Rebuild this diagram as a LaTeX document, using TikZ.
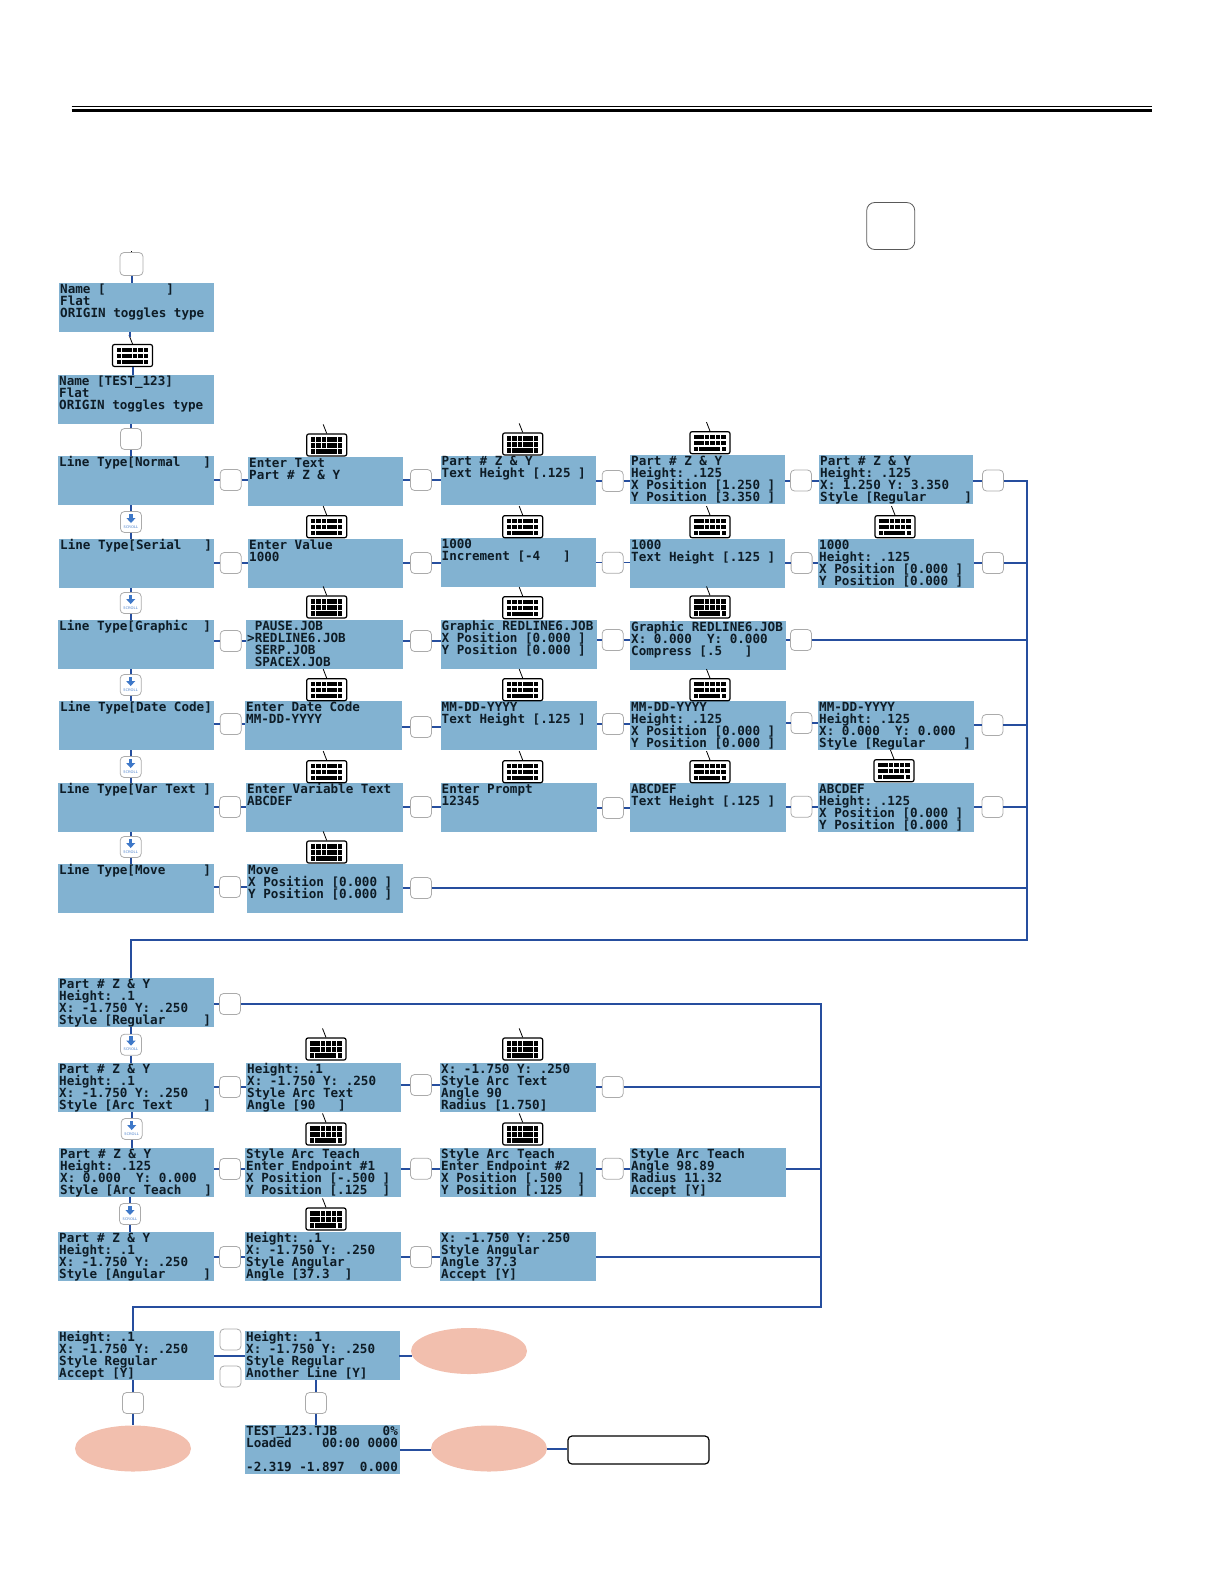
\documentclass[tikz,border=0pt]{standalone}
\usepackage{xcolor}
\usepackage{fontspec}
\setmonofont{DejaVu Sans Mono}
\usetikzlibrary{shapes.geometric}
\definecolor{lcdblue}{HTML}{82B2D1}
\definecolor{linkblue}{HTML}{264E9E}
\definecolor{scrollblue}{HTML}{3E78C8}
\definecolor{ovalpink}{HTML}{F2BFAE}
\definecolor{keygrey}{HTML}{ABABAB}
\definecolor{lcdink}{HTML}{0E1C26}
\newcommand{\lcdspacing}{\spaceskip=7.585pt \xspaceskip=7.585pt \lineskiplimit=-20pt \relax}
\tikzset{
  lcd/.style={fill=lcdblue, anchor=north west, inner xsep=1pt, inner ysep=0pt, text=lcdink,
    text width=#1-2pt, text height=10pt, text depth=39pt, align=left,
    font=\ttfamily\bfseries\fontsize{12.6}{12}\selectfont, execute at begin node=\lcdspacing},
  lcd/.default=156pt,
  blankkey/.style={draw=keygrey, line width=.8pt, fill=white, rounded corners=4pt, minimum size=21pt, inner sep=0pt},
  scrollkey/.style={blankkey, text=scrollblue, font=\sffamily\fontsize{3.8}{4}\selectfont},
  kbdkey/.style={draw=black, line width=1.2pt, fill=white, rounded corners=2pt, minimum width=40pt, minimum height=22pt, inner sep=0pt,
    path picture={\begin{scope}[shift={(path picture bounding box.center)}, sharp corners]
      \foreach \kx in {-16,-10.6,-5.2,.2,5.6,11} {
        \fill[black] (\kx,-8) rectangle ++(4.6,4.6);
        \fill[black] (\kx,-2) rectangle ++(4.6,4.6);
      }
      \fill[black] (-16,4) rectangle ++(4,4.6);
      \fill[black] (-10.6,4) rectangle ++(21,4.6);
      \fill[black] (11.6,4) rectangle ++(4,4.6);
    \end{scope}}},
  kbdtail/.style={draw=black, line width=.8pt},
  link/.style={draw=linkblue, line width=2pt},
  thinlink/.style={draw=linkblue, line width=1.2pt},
  oval/.style={ellipse, fill=ovalpink, minimum width=116pt, minimum height=46pt, inner sep=0pt}
}
\begin{document}
\begin{tikzpicture}[x=1pt,y=-1pt]
  \useasboundingbox (0,0) rectangle (1224,1584);
  % top rules
  \draw[line width=1.3pt] (71.5,106.5) -- (1152,106.5);
  \draw[line width=3pt] (71.5,110.5) -- (1152,110.5);
  \node[blankkey, draw=black!65, minimum width=48pt, minimum height=47pt, rounded corners=8pt] (startkey) at (890.7,226) {};

  % first column
  \node[lcd=155pt] (b01) at (59,283) {Name [~~~~~~~~]\\Flat\\ORIGIN toggles type};
  \node[lcd] (b02) at (58,375) {Name [TEST\_123]\\Flat\\ORIGIN toggles type};
  \node[lcd] (b11) at (58,456) {Line Type[Normal~~~]};
  \node[lcd=155pt] (b21) at (59,539) {Line Type[Serial~~~]};
  \node[lcd] (b31) at (58,620) {Line Type[Graphic~~]};
  \node[lcd=155pt] (b41) at (59,701) {Line Type[Date Code]};
  \node[lcd] (b51) at (58,783) {Line Type[Var Text ]};
  \node[lcd] (b61) at (58,864) {Line Type[Move~~~~~]};

  % normal row
  \node[lcd=155pt] (b12) at (248,457) {Enter Text\\Part \# Z \& Y};
  \node[lcd=155pt] (b13) at (440.5,455.5) {Part \# Z \& Y\\Text Height [.125 ]};
  \node[lcd=155pt] (b14) at (630,455) {Part \# Z \& Y\\Height: .125\\X Position [1.250 ]\\Y Position [3.350 ]};
  \node[lcd=154pt] (b15) at (819,455) {Part \# Z \& Y\\Height: .125\\X: 1.250 Y: 3.350\\Style [Regular~~~~~]};

  % serial row
  \node[lcd=155pt] (b22) at (248,539) {Enter Value\\1000};
  \node[lcd=155pt] (b23) at (440.5,538) {1000\\Increment [-4~~~]};
  \node[lcd=155pt] (b24) at (630,539) {1000\\Text Height [.125 ]};
  \node[lcd] (b25) at (818,539) {1000\\Height: .125\\X Position [0.000 ]\\Y Position [0.000 ]};

  % graphic row
  \node[lcd=157pt] (b32) at (246,620) {~PAUSE.JOB\\>REDLINE6.JOB\\~SERP.JOB\\~SPACEX.JOB};
  \node[lcd] (b33) at (440.5,620) {Graphic REDLINE6.JOB\\X Position [0.000 ]\\Y Position [0.000 ]};
  \node[lcd] (b34) at (630,621) {Graphic REDLINE6.JOB\\X: 0.000~~Y: 0.000\\Compress [.5~~~]};

  % date code row
  \node[lcd=157pt] (b42) at (245,701) {Enter Date Code\\MM-DD-YYYY};
  \node[lcd] (b43) at (440.5,701) {MM-DD-YYYY\\Text Height [.125 ]};
  \node[lcd] (b44) at (630,701) {MM-DD-YYYY\\Height: .125\\X Position [0.000 ]\\Y Position [0.000 ]};
  \node[lcd] (b45) at (818,701) {MM-DD-YYYY\\Height: .125\\X: 0.000~~Y: 0.000\\Style [Regular~~~~~]};

  % var text row
  \node[lcd=157pt] (b52) at (246,783) {Enter Variable Text\\ABCDEF};
  \node[lcd] (b53) at (440.5,783) {Enter Prompt\\12345};
  \node[lcd] (b54) at (630,783) {ABCDEF\\Text Height [.125 ]};
  \node[lcd] (b55) at (818,783) {ABCDEF\\Height: .125\\X Position [0.000 ]\\Y Position [0.000 ]};

  % move row
  \node[lcd] (b62) at (247,864) {Move\\X Position [0.000 ]\\Y Position [0.000 ]};

  % arc part
  \node[lcd] (b71) at (58,978) {Part \# Z \& Y\\Height: .1\\X: -1.750 Y: .250\\Style [Regular~~~~~]};
  \node[lcd] (b81) at (58,1063) {Part \# Z \& Y\\Height: .1\\X: -1.750 Y: .250\\Style [Arc Text~~~~]};
  \node[lcd=155pt] (b82) at (246,1063) {Height: .1\\X: -1.750 Y: .250\\Style Arc Text\\Angle [90~~~]};
  \node[lcd] (b83) at (440,1063) {X: -1.750 Y: .250\\Style Arc Text\\Angle 90\\Radius [1.750]};
  \node[lcd=155pt] (b91) at (59,1148) {Part \# Z \& Y\\Height: .125\\X: 0.000~~Y: 0.000\\Style [Arc Teach~~~]};
  \node[lcd] (b92) at (245,1148) {Style Arc Teach\\Enter Endpoint \#1\\X Position [-.500 ]\\Y Position [.125~~]};
  \node[lcd] (b93) at (440,1148) {Style Arc Teach\\Enter Endpoint \#2\\X Position [.500~~]\\Y Position [.125~~]};
  \node[lcd] (b94) at (630,1148) {Style Arc Teach\\Angle 98.89\\Radius 11.32\\Accept [Y]};
  \node[lcd] (b101) at (58,1232) {Part \# Z \& Y\\Height: .1\\X: -1.750 Y: .250\\Style [Angular~~~~~]};
  \node[lcd] (b102) at (245,1232) {Height: .1\\X: -1.750 Y: .250\\Style Angular\\Angle [37.3~~]};
  \node[lcd] (b103) at (440,1232) {X: -1.750 Y: .250\\Style Angular\\Angle 37.3\\Accept [Y]};

  % last part
  \node[lcd] (b111) at (58,1331) {Height: .1\\X: -1.750 Y: .250\\Style Regular\\Accept [Y]};
  \node[lcd=154.5pt] (b112) at (245,1331) {Height: .1\\X: -1.750 Y: .250\\Style Regular\\Another Line [Y]};
  \node[lcd=154.5pt] (status) at (245,1425) {TEST\_123.TJB~~~~~~0\%\\Loaded~~~~00:00 0000\\~\\-2.319 -1.897~~0.000};
  \node[oval] (ella) at (469,1351) {};
  \node[oval] (ellb) at (133,1448.5) {};
  \node[oval] (ellc) at (489,1448.5) {};
  \node[draw=black, line width=1.2pt, fill=white, rounded corners=4pt, minimum width=141pt, minimum height=28pt, inner sep=0pt] (endbox) at (638.5,1450) {};

  % blank keys
  \node[blankkey, minimum size=23pt] (k01) at (131.5,264) {};
  \foreach \nm/\px/\py in {k02/131/439,k11/230.7/480,k12/421/480,k13/612.7/481,k14/801/480.5,k15/993/480.5,
      k21/230.7/563,k22/421/563,k23/612.7/562.7,k24/801.6/563,k25/993/563,
      k31/230.7/641,k32/421/641,k33/612.7/640,k34/801/640,
      k41/230.7/724,k42/421/727,k43/613/724,k44/801.4/723,k45/992.5/725,
      k51/230/807,k52/421/807,k53/613/808,k54/801.4/806.7,k55/992.5/807,
      k61/230/887,k62/421/888,k71/230/1004,
      k81/230/1087,k82/421/1085,k83/612.7/1087,
      k91/230/1169,k92/421/1168.7,k93/612.7/1168.7,
      k101/230/1257,k102/421/1257,
      k111/230.5/1339.5,k112/230.5/1376.5,k113/133/1403,k114/316/1403}
    \node[blankkey] (\nm) at (\px,\py) {};

  % scroll keys
  \foreach \nm/\px/\py in {s1/131/522,s2/130.7/603,s3/130.7/685,s4/130.7/767,s5/130.7/847,
      s6/131/1044.7,s7/131.7/1129,s8/130/1214}
  {
    \node[scrollkey] (\nm) at (\px,\py) {\raisebox{-6pt}[0pt][0pt]{SCROLL}};
    \begin{scope}[shift={(\nm.center)}]
      \fill[scrollblue] (-1.6,-8.5) rectangle (1.6,-3.5);
      \fill[scrollblue] (-4.6,-4) -- (4.6,-4) -- (0,1) -- cycle;
    \end{scope}
  }

  % keyboards
  \foreach \nm/\px/\py in {kb1/132.5/355.5,kb12/326.7/445,kb13/522.7/444,kb14/710/442.7,
      kb22/326.7/526.7,kb23/522.7/526.7,kb24/710/526.7,kb25/895/526.7,
      kb32/326.7/607,kb33/522.7/607.7,kb34/710/607,
      kb42/326.7/689.7,kb43/522.7/689.7,kb44/710/689.7,
      kb52/326.7/771.7,kb53/522.7/771.7,kb54/710/771.7,kb55/894/770.7,
      kb62/326.7/852,kb82/326/1049,kb83/522.7/1049,kb92/326/1134,kb93/522.7/1134,kb102/326/1219}
  {
    \node[kbdkey] (\nm) at (\px,\py) {};
    \draw[kbdtail] (\nm.north) -- ++(-3.5,-9);
  }
  \draw[kbdtail] (k01.north) -- ++(0,-1.5);

  % row connectors
  \foreach \a/\k/\b in {b11/k11/b12,b12/k12/b13,b13/k13/b14,b14/k14/b15,
      b31/k31/b32,b32/k32/b33,b33/k33/b34,
      b41/k41/b42,b42/k42/b43,b43/k43/b44,b44/k44/b45,
      b51/k51/b52,b52/k52/b53,b53/k53/b54,b54/k54/b55,
      b61/k61/b62,b81/k81/b82,b82/k82/b83,b91/k91/b92,b92/k92/b93,b93/k93/b94,
      b101/k101/b102,b102/k102/b103}
  {
    \draw[link] (\a.east |- \k.west) -- (\k.west);
    \draw[link] (\k.east) -- (\b.west |- \k.east);
  }
  \foreach \a/\k/\b in {b21/k21/b22,b22/k22/b23,b23/k23/b24,b24/k24/b25}
  {
    \draw[thinlink] (\a.east |- \k.west) -- (\k.west);
    \draw[thinlink] (\k.east) -- (\b.west |- \k.east);
  }
  \draw[link] (b15.east |- k15.west) -- (k15.west);
  \draw[thinlink] (b25.east |- k25.west) -- (k25.west);
  \draw[link] (b34.east |- k34.west) -- (k34.west);
  \draw[link] (b45.east |- k45.west) -- (k45.west);
  \draw[link] (b55.east |- k55.west) -- (k55.west);
  \draw[link] (b62.east |- k62.west) -- (k62.west);
  \draw[link] (b71.east |- k71.west) -- (k71.west);
  \draw[link] (b83.east |- k83.west) -- (k83.west);

  % column connectors
  \draw[link] (k01.south) -- (k01.south |- b01.north);
  \draw[link] (b01.south -| kb1.north) ++(-3,0) -- ++(0,5);
  \draw[link] (kb1.south) -- (kb1.south |- b02.north);
  \foreach \a/\k/\b in {b02/k02/b11,b11/s1/b21,b21/s2/b31,b31/s3/b41,b41/s4/b51,b51/s5/b61,
      b71/s6/b81,b81/s7/b91,b91/s8/b101,b111/k113/ellb,b112/k114/status}
  {
    \draw[link] (\a.south -| \k.north) -- (\k.north);
    \draw[link] (\k.south) -- (\k.south |- \b.north);
  }

  % return lines
  \coordinate (busa) at (1027,480.5);
  \coordinate (busb) at (1027,940);
  \coordinate (busc) at (131,940);
  \draw[link] (k15.east) -- (busa) -- (busb) -- (busc) -- (busc |- b71.north);
  \draw[thinlink] (k25.east) -- (k25.east -| busa);
  \foreach \k in {k34,k45,k55,k62}
    \draw[link] (\k.east) -- (\k.east -| busa);

  \coordinate (busd) at (821,1004);
  \coordinate (buse) at (821,1306.7);
  \coordinate (busf) at (133,1306.7);
  \draw[link] (k71.east) -- (busd) -- (buse) -- (busf) -- (busf |- b111.north);
  \draw[link] (k83.east) -- (k83.east -| busd);
  \draw[link] (b94.east |- k93.east) -- (k93.east -| busd);
  \draw[link] (b103.east |- k102.east) -- (k102.east -| busd);

  % bottom connectors
  \draw[link] (b111.east) -- (b112.west);
  \draw[link, line cap=rect] (b112.east) -- (ella.west |- b112.east);
  \draw[link] (status.east) -- (ellc.west |- status.east);
  \draw[link] (ellc.east) -- (endbox.west |- ellc.east);
\end{tikzpicture}
\end{document}
